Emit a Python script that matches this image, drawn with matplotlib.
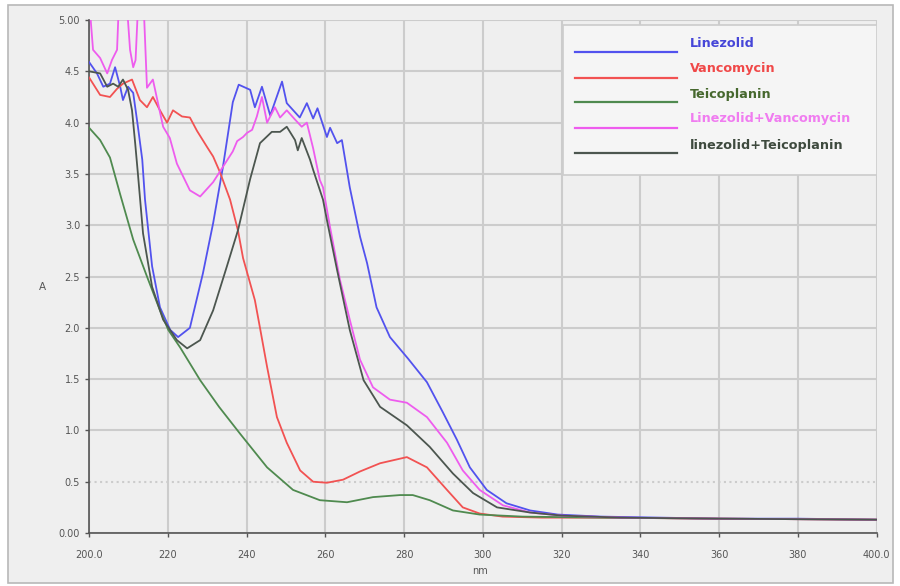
import numpy as np
import matplotlib
matplotlib.use('Agg')
import matplotlib.pyplot as plt
from matplotlib.patches import Rectangle

# wavelength (nm) / absorbance (A)
lin_nm = [200, 202, 203.6, 205.3, 206.6, 207.9, 208.6, 209.9, 211.2, 212.4, 213.5, 214.2, 216, 218,
          220.6, 222.6, 225.6, 228.9, 231.5, 234, 236.5, 238, 240.9, 242.1, 243.9, 246, 249, 250.2,
          253.5, 255.3, 256.9, 258, 260.4, 261.2, 263, 264.2, 266.2, 268.8, 270.6, 273, 276.4, 281,
          285.8, 289.8, 293.4, 296.7, 301, 306, 312, 319, 330, 345, 360, 380, 400]
lin_a = [4.59, 4.48, 4.35, 4.38, 4.54, 4.35, 4.22, 4.35, 4.29, 3.96, 3.64, 3.25, 2.6, 2.2,
         1.98, 1.91, 2.0, 2.53, 3.02, 3.57, 4.2, 4.37, 4.32, 4.15, 4.35, 4.07, 4.4, 4.19,
         4.05, 4.19, 4.04, 4.14, 3.86, 3.95, 3.8, 3.83, 3.37, 2.89, 2.63, 2.2, 1.91, 1.7,
         1.47, 1.18, 0.91, 0.64, 0.42, 0.29, 0.22, 0.18, 0.16, 0.15, 0.14, 0.14, 0.13]

van_nm = [200, 202.8, 205.3, 207.1, 208.6, 210.9, 212.9, 214.7, 216.2, 218, 219.8, 221.3, 223.6,
          225.6, 227.4, 230, 231.5, 233.2, 235.8, 237.8, 239.1, 242.1, 243.4, 245.2, 247.7, 250.2,
          253.6, 256.9, 260.4, 264.5, 268.8, 273.9, 280.7, 285.8, 290.9, 294.9, 299.2, 305, 315,
          330, 360, 400]
van_a = [4.44, 4.27, 4.25, 4.33, 4.38, 4.42, 4.22, 4.15, 4.25, 4.12, 4.0, 4.12, 4.06,
         4.05, 3.92, 3.76, 3.67, 3.52, 3.25, 2.95, 2.68, 2.27, 2.0, 1.62, 1.13, 0.88,
         0.61, 0.5, 0.49, 0.52, 0.6, 0.68, 0.74, 0.64, 0.42, 0.25, 0.19, 0.16, 0.15,
         0.15, 0.14, 0.13]

tei_nm = [200, 202.8, 205.3, 206.1, 207.9, 211.2, 214.7, 218, 220.1, 223.1, 228.2, 233, 238.3,
          245.2, 251.8, 258.6, 265.5, 272.1, 279, 282.2, 286.5, 292.4, 299.2, 310, 330, 360, 400]
tei_a = [3.95, 3.83, 3.66, 3.55, 3.3, 2.86, 2.5, 2.17, 1.98, 1.81, 1.49, 1.23, 0.97,
         0.64, 0.42, 0.32, 0.3, 0.35, 0.37, 0.37, 0.32, 0.22, 0.18, 0.16, 0.15, 0.14, 0.13]

lv_nm = [200, 201, 202.8, 204.6, 205.8, 207.1, 207.6, 209.5, 210.4, 211.2, 211.8, 212.5, 213.8,
         214.7, 216.2, 218.8, 220.5, 222.3, 225.6, 228.2, 231.5, 234, 236.5, 237.6, 239.1, 240.1,
         241.4, 242.6, 243.9, 245.2, 247.2, 248.5, 250.2, 252.3, 254, 255.3, 256.9, 258.6, 259.4,
         261.2, 263.7, 266.2, 268.8, 272.1, 276.4, 280.7, 285.8, 290.9, 294.9, 299.2, 305.1, 312,
         320, 335, 360, 400]
lv_a = [5.2, 4.71, 4.63, 4.48, 4.61, 4.71, 5.2, 5.2, 4.71, 4.54, 4.61, 5.2, 5.2,
        4.34, 4.42, 3.96, 3.85, 3.6, 3.34, 3.28, 3.42, 3.57, 3.72, 3.82, 3.86, 3.9,
        3.93, 4.06, 4.25, 4.0, 4.15, 4.05, 4.12, 4.03, 3.96, 4.0, 3.75, 3.44, 3.37,
        2.98, 2.47, 2.08, 1.69, 1.42, 1.3, 1.27, 1.13, 0.88, 0.61, 0.42, 0.27, 0.2,
        0.17, 0.15, 0.14, 0.13]

lt_nm = [200, 202.8, 204.6, 206.1, 207.4, 208.6, 209.9, 210.9, 211.7, 212.4, 213.7, 216, 218.8,
         222.3, 224.9, 228.2, 231.5, 235, 237.8, 240.9, 243.4, 246.4, 248.5, 250.2, 252.3, 253,
         254, 256.1, 256.9, 259.4, 260.4, 263, 266.2, 269.7, 273.9, 280.7, 286.5, 292.4, 297.5,
         303.6, 312, 320, 335, 360, 400]
lt_a = [4.5, 4.48, 4.35, 4.38, 4.35, 4.42, 4.32, 4.12, 3.8, 3.5, 2.92, 2.4, 2.08,
        1.88, 1.8, 1.88, 2.17, 2.6, 2.95, 3.45, 3.8, 3.91, 3.91, 3.96, 3.83, 3.73,
        3.85, 3.64, 3.54, 3.25, 3.05, 2.56, 1.98, 1.49, 1.23, 1.05, 0.84, 0.58, 0.39,
        0.25, 0.2, 0.17, 0.15, 0.14, 0.13]

labels = ['Linezolid', 'Vancomycin', 'Teicoplanin', 'Linezolid+Vancomycin', 'linezolid+Teicoplanin']
line_colors = ['#5252ee', '#f25252', '#4f8a4f', '#ee5cee', '#4c564f']
text_colors = ['#4646d8', '#f04848', '#46682e', '#f07cf0', '#3e4a3e']

x_ticks = np.arange(200, 401, 20)
x_ticklabels = ['200.0', '220', '240', '260', '280', '300', '320', '340', '360', '380', '400.0']
y_ticks = np.arange(0, 5.01, 0.5)
y_ticklabels = ['0.00', '0.5', '1.0', '1.5', '2.0', '2.5', '3.0', '3.5', '4.0', '4.5', '5.00']

fig = plt.figure(figsize=(9, 5.86), dpi=100)
fig.patch.set_facecolor('white')
fig.add_artist(Rectangle((8 / 900, 3 / 586), 885 / 900, 578 / 586, transform=fig.transFigure,
                         facecolor='#efefef', edgecolor='#b8b8b8', linewidth=1.2, zorder=-1))

ax = fig.add_axes([0.099, 0.0904, 0.875, 0.8754])
ax.set_facecolor('none')

series = [(lin_nm, lin_a), (van_nm, van_a), (tei_nm, tei_a), (lv_nm, lv_a), (lt_nm, lt_a)]
for (xs, ys), c in zip(series, line_colors):
    ax.plot(xs, ys, color=c, linewidth=1.3, zorder=3)

ax.set_xlim(200, 400)
ax.set_ylim(0, 5)
ax.set_xticks(x_ticks)
ax.set_xticklabels(x_ticklabels)
ax.set_yticks(y_ticks)
ax.set_yticklabels(y_ticklabels)
ax.tick_params(labelsize=7, colors='#555555', length=3, width=1)
ax.tick_params(axis='x', pad=9)
ax.grid(True, color='#cccccc', linewidth=1.5, zorder=0)
ax.yaxis.get_gridlines()[1].set_linestyle(':')
for s in ['top', 'right']:
    ax.spines[s].set_visible(False)
for s in ['left', 'bottom']:
    ax.spines[s].set_color('#555555')
    ax.spines[s].set_linewidth(1.2)

fig.text(42 / 900, 1 - 287 / 586, 'A', fontsize=7.5, color='#555555', ha='center', va='center')
fig.text(480 / 900, 1 - 571 / 586, 'nm', fontsize=7, color='#555555', ha='center', va='center')

# legend drawn by hand so the text can sit slightly above its line
ax.add_patch(Rectangle((0.602, 0.698), 0.398, 0.292, transform=ax.transAxes,
                       facecolor='#f5f5f5', edgecolor='#cccccc', linewidth=1.2, zorder=4))
line_y = [0.938, 0.887, 0.840, 0.789, 0.741]
text_y = [0.955, 0.906, 0.854, 0.809, 0.756]
for lab, lc, tc, ly, ty in zip(labels, line_colors, text_colors, line_y, text_y):
    ax.plot([0.617, 0.746], [ly, ly], color=lc, linewidth=1.6, transform=ax.transAxes, zorder=5)
    ax.text(0.763, ty, lab, color=tc, fontsize=9.2, fontweight='bold', transform=ax.transAxes,
            va='center', ha='left', zorder=5)

fig.savefig('out.png', dpi=100)
